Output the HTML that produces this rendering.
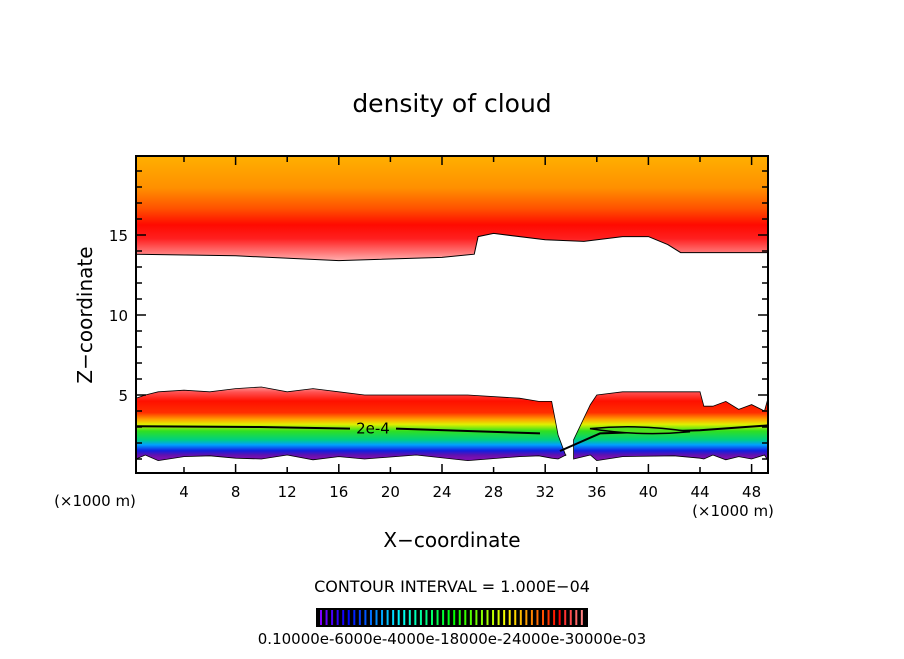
<!DOCTYPE html>
<html><head><meta charset="utf-8"><style>
body{margin:0;background:#fff;}
svg text{font-family:"DejaVu Sans","Liberation Sans",sans-serif;fill:#000;}
</style></head><body>
<svg id="chart" width="904" height="654" viewBox="0 0 904 654">
<defs>
<linearGradient id="gUp" gradientUnits="userSpaceOnUse" x1="0" y1="156" x2="0" y2="262">
<stop offset="0" stop-color="#ffb000"/><stop offset="0.3" stop-color="#ff9000"/><stop offset="0.5" stop-color="#ff5000"/>
<stop offset="0.65" stop-color="#ff0a00"/><stop offset="0.78" stop-color="#ff2020"/><stop offset="0.9" stop-color="#ff7070"/><stop offset="1" stop-color="#ffb8b8"/>
</linearGradient>
<linearGradient id="gLow" gradientUnits="userSpaceOnUse" x1="0" y1="385" x2="0" y2="458">
<stop offset="0" stop-color="#ffb0b0"/><stop offset="0.1" stop-color="#ff5050"/><stop offset="0.22" stop-color="#ff1000"/>
<stop offset="0.38" stop-color="#ff3000"/><stop offset="0.47" stop-color="#ffa000"/><stop offset="0.54" stop-color="#e0f000"/><stop offset="0.63" stop-color="#30e020"/>
<stop offset="0.75" stop-color="#00d080"/><stop offset="0.82" stop-color="#00a0ff"/><stop offset="0.9" stop-color="#1020e0"/><stop offset="0.96" stop-color="#6010b0"/><stop offset="1" stop-color="#7a10b0"/>
</linearGradient>
</defs>
<text x="452" y="112" font-size="25" text-anchor="middle">density of cloud</text>
<g id="plot"></g>
<rect x="136" y="156" width="632" height="317" fill="none" stroke="#000" stroke-width="2"/>
<g id="axes"></g>
<text x="95" y="506" font-size="15" text-anchor="middle">(×1000 m)</text>
<text x="733" y="516" font-size="15" text-anchor="middle">(×1000 m)</text>
<text x="452" y="547" font-size="20" text-anchor="middle">X−coordinate</text>
<text transform="translate(92,315) rotate(-90)" font-size="20" text-anchor="middle">Z−coordinate</text>
<text x="452" y="592" font-size="16" text-anchor="middle">CONTOUR INTERVAL = 1.000E−04</text>
<g id="cbar"></g>
<text x="452" y="644" font-size="15" text-anchor="middle">0.10000e-6000e-4000e-18000e-24000e-30000e-03</text>
</svg>
<script>
const xTicks=[4,8,12,16,20,24,28,32,36,40,44,48];
const yTicks=[5,10,15];
// upper cloud lower boundary (km vs km)
const upX=[0,8,16,24,26.5,26.8,28,32,35,38,40,41.5,42.5,50];
const upZ=[13.8,13.7,13.4,13.6,13.8,14.9,15.1,14.7,14.6,14.9,14.9,14.4,13.9,13.9];
// lower cloud (left part) top boundary
const lowLX=[0,1,2,4,6,8,10,12,14,16,18,22,26,30,31.5,32.5,33,33.6];
const lowLZ=[4.8,5.0,5.2,5.3,5.2,5.4,5.5,5.2,5.4,5.2,5.0,5.0,5.0,4.8,4.6,4.6,2.5,1.2];
// lower cloud (right part) top boundary
const lowRX=[34.2,35.5,36,38,42,44,44.3,45,46,47,48,49,50];
const lowRZ=[2.2,4.4,5.0,5.2,5.2,5.2,4.3,4.3,4.6,4.1,4.4,4.0,4.8];
const botZ=[1.0,1.1,0.9,1.0,1.2,0.9,1.0,1.1,0.95,1.0];
const contourZ=2.9;
const cbarN=48;

const X=k=>132.4+k*12.9, Y=z=>475-z*16;
const NS='http://www.w3.org/2000/svg';
function mk(t,a,p){const e=document.createElementNS(NS,t);for(const k in a)e.setAttribute(k,a[k]);(p||document.getElementById('plot')).appendChild(e);return e;}
let d='M136 156 L768 156 L768 '+Y(upZ[upZ.length-1]);
for(let i=upX.length-1;i>=0;i--)d+=' L'+Math.max(136,Math.min(768,X(upX[i])))+' '+Y(upZ[i]);
d+=' Z';
let e=mk('path',{d:d,fill:'url(#gUp)',stroke:'#000','stroke-width':1});


function band(xs,zs,name){
 const n=xs.length;let s='M'+Math.max(136,X(xs[0]))+' '+Y(zs[0]);
 for(let i=1;i<n;i++)s+=' L'+Math.min(768,X(xs[i]))+' '+Y(zs[i]);
 for(let i=n-1;i>=0;i--)s+=' L'+Math.min(768,Math.max(136,X(xs[i])))+' '+Y(botZ[i%botZ.length]+(i%2?0.15:0));
 s+=' Z';
 const p=mk('path',{d:s,fill:'url(#gLow)',stroke:'#000','stroke-width':0.8});
 
 
}
band(lowLX,lowLZ,'lower-cloud-left');
band(lowRX,lowRZ,'lower-cloud-right');
let c=mk('path',{d:'M136 '+Y(contourZ+0.15)+' L260 '+Y(contourZ+0.1)+' L350 '+Y(contourZ)+' M396 '+Y(contourZ)+' L540 '+Y(contourZ-0.3)+' M560 '+Y(1.5)+' L600 '+Y(2.6)+' L700 '+Y(2.8)+' L768 '+Y(3.1),fill:'none',stroke:'#000','stroke-width':2});


let lp=mk('path',{d:'M590 '+Y(2.9)+' Q640 '+Y(2.4)+' 690 '+Y(2.7)+' Q640 '+Y(3.2)+' 590 '+Y(2.9)+'Z',fill:'#50e020',stroke:'#000','stroke-width':1.5});


let lt=mk('text',{x:373,y:Y(contourZ)+5,'font-size':15,'text-anchor':'middle'});
lt.textContent='2e-4';


const ax=document.getElementById('axes');
xTicks.forEach(k=>{
 const x=X(k),maj=(k%8===0);
 let t=mk('path',{d:`M${x} 473 v-${maj?9:6} M${x} 156 v${maj?9:6}`,stroke:'#000','stroke-width':1.5},ax);
 
 
 let l=mk('text',{x:x,y:497,'font-size':15,'text-anchor':'middle'},ax);l.textContent=k;
 
 
});
for(let z=1;z<=19;z++){const y=Y(z),maj=z%5===0;
 let t=mk('path',{d:`M136 ${y} h${maj?10:6} M768 ${y} h-${maj?10:6}`,stroke:'#000','stroke-width':1.5},ax);
 
 }
yTicks.forEach(z=>{let l=mk('text',{x:128,y:Y(z)+6,'font-size':15,'text-anchor':'end'},ax);l.textContent=z;
 
 });
const cb=document.getElementById('cbar');
mk('rect',{x:316,y:608,width:272,height:19,fill:'#000'},cb);
for(let i=0;i<cbarN;i++){const hue=i<cbarN-4?(270-i*270/(cbarN-5)):0;
 const li=i<cbarN-4?50:60+i%4*5;
 let r=mk('rect',{x:320+i*5.55,y:610,width:2,height:15,fill:`hsl(${hue},100%,${li}%)`},cb);
 
 }
</script>
</body></html>
